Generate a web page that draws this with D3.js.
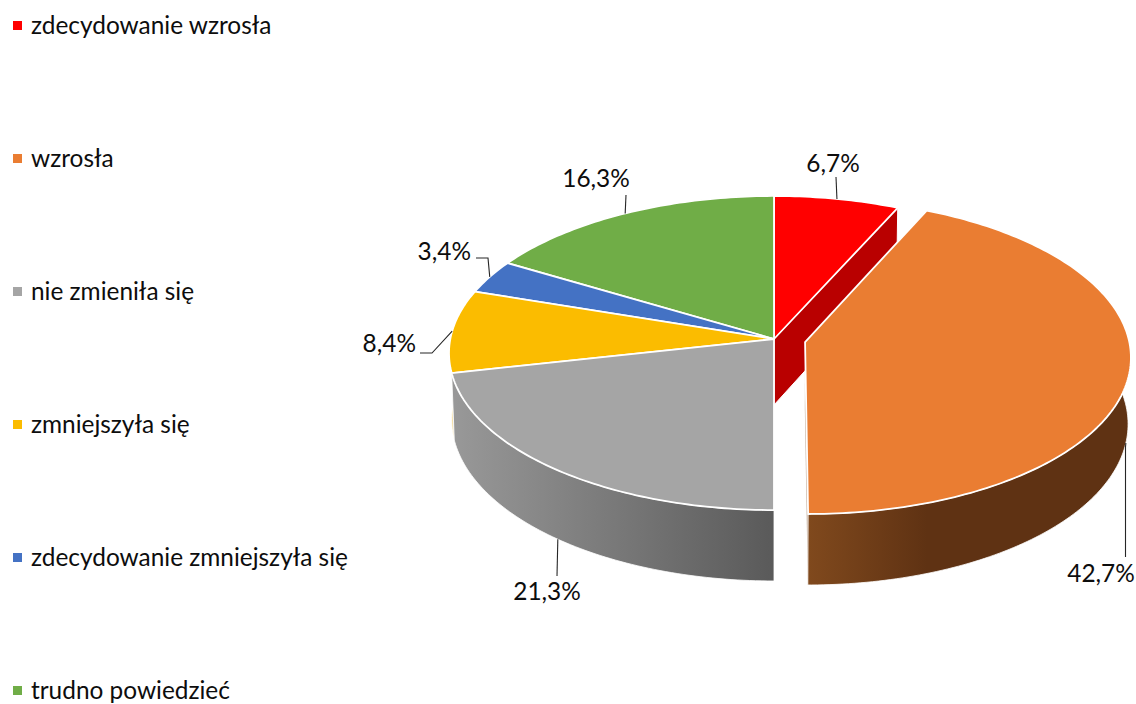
<!DOCTYPE html>
<html>
<head>
<meta charset="utf-8">
<script src="https://cdn.jsdelivr.net/npm/d3@7"></script>
<style>
  html, body { margin: 0; padding: 0; background: #fff; }
  text { font-family: Lato, "Open Sans", sans-serif; fill: #0d0d0d; }
</style>
</head>
<body>
<div id="chart"></div>
<script>
const categories = ['zdecydowanie wzrosła', 'wzrosła', 'nie zmieniła się', 'zmniejszyła się', 'zdecydowanie zmniejszyła się', 'trudno powiedzieć'];
const values = [6.7, 42.7, 21.3, 8.4, 3.4, 16.3];
const valueLabels = ['6,7%', '42,7%', '21,3%', '8,4%', '3,4%', '16,3%'];
const colors = ['#ff0000', '#ea7d32', '#a5a5a5', '#fbbc00', '#4472c4', '#70ad47'];

const width = 1136, height = 704;

// perspective pie: disc coords (u right, v away) go through a homography
const cx = 774, cy = 339, a = 323.7, b = 155.8, k = 0.0893;
const depth = 66.5, depthW = 0.008;
const explodeBy = [0, 0.098, 0, 0, 0, 0];
const fontSize = 24.4;

function project(angle, radius, slice, h) {
    const off = explodeBy[slice];
    const mid = (pieData[slice].startAngle + pieData[slice].endAngle) / 2;
    const u = radius * Math.sin(angle) + off * Math.sin(mid);
    const v = radius * Math.cos(angle) + off * Math.cos(mid);
    const w = 1 + k * v + depthW * h;
    return [cx + a * u / w, cy + (-b * v + depth * h) / w];
}

const pieData = d3.pie().sort(null).value(d => d)(values);
const color = d3.scaleOrdinal().domain(categories).range(colors);
const line = d3.line();
const arcAngles = d => d3.range(d.startAngle, d.endAngle, Math.PI / 180).concat([d.endAngle]);

const svg = d3.select('#chart').append('svg')
    .attr('width', width)
    .attr('height', height)
    .style('display', 'block');

function wallGradient(id, x1, x2, stops) {
    const g = svg.append('defs').append('linearGradient')
        .attr('id', id)
        .attr('gradientUnits', 'userSpaceOnUse')
        .attr('x1', x1).attr('x2', x2).attr('y1', 0).attr('y2', 0);
    stops.forEach(s => g.append('stop').attr('offset', s[0]).attr('stop-color', s[1]));
}
wallGradient('wallGray', 455, 773, [[0, '#989898'], [1, '#5a5a5a']]);
wallGradient('wallOrange', 808, 1130, [[0, '#80491d'], [0.37, '#5f3213'], [1, '#5f3213']]);

function outerWall(i, fill) {
    const top = arcAngles(pieData[i]).map(t => project(t, 1, i, 0));
    const base = arcAngles(pieData[i]).reverse().map(t => project(t, 1, i, 1));
    svg.append('path')
        .attr('d', line(top.concat(base)) + 'Z')
        .attr('fill', fill)
        .attr('stroke', '#fff')
        .attr('stroke-width', 0.8);
}

function cutFace(i, angle, fill, stroke) {
    const pts = [project(0, 0, i, 0), project(angle, 1, i, 0), project(angle, 1, i, 1), project(0, 0, i, 1)];
    svg.append('path')
        .attr('d', line(pts) + 'Z')
        .attr('fill', fill)
        .attr('stroke', stroke)
        .attr('stroke-width', 1);
}

function topFace(i) {
    const pts = [project(0, 0, i, 0)].concat(arcAngles(pieData[i]).map(t => project(t, 1, i, 0)));
    svg.append('path')
        .attr('d', line(pts) + 'Z')
        .attr('fill', color(categories[i]))
        .attr('stroke', '#fff')
        .attr('stroke-width', 1.8)
        .attr('stroke-linejoin', 'round');
}

// back to front
cutFace(0, pieData[0].endAngle, '#b90000', '#fff');
outerWall(3, '#f3dca0');
outerWall(2, 'url(#wallGray)');
[0, 5, 4, 3, 2].forEach(topFace);
cutFace(1, pieData[1].endAngle, '#c4ad9a', 'none');
outerWall(1, 'url(#wallOrange)');
topFace(1);

// leader lines start on the slice rim and end next to the label
const midAngle = i => (pieData[i].startAngle + pieData[i].endAngle) / 2;
const labelSpots = [
    { x: 833, y: 172, anchor: 'middle', wall: 0, elbow: [[836, 177]] },
    { x: 1101, y: 582, anchor: 'middle', wall: 1, elbow: [[1125.5, 447], [1125.5, 557]] },
    { x: 547, y: 600, anchor: 'middle', wall: 1, elbow: [[557, 576]] },
    { x: 416, y: 352, anchor: 'end', wall: 0, elbow: [[432, 353], [420, 353]] },
    { x: 471, y: 260, anchor: 'end', wall: 0, elbow: [[488, 258], [476, 258]] },
    { x: 596, y: 187, anchor: 'middle', wall: 0, elbow: [[626, 195]] }
];

labelSpots.forEach((s, i) => {
    const start = project(midAngle(i), 1, i, s.wall);
    svg.append('path')
        .attr('d', line([start].concat(s.elbow)))
        .attr('fill', 'none')
        .attr('stroke', '#262626')
        .attr('stroke-width', 1.1);
    svg.append('text')
        .attr('x', s.x)
        .attr('y', s.y)
        .attr('text-anchor', s.anchor)
        .attr('font-size', fontSize)
        .text(valueLabels[i]);
});

// legend down the left side
const legendY = d3.scalePoint().domain(categories).range([25.5, 690.5]);
const legend = svg.append('g').selectAll('g')
    .data(categories)
    .enter().append('g')
    .attr('transform', d => `translate(0,${legendY(d)})`);
legend.append('rect')
    .attr('x', 13)
    .attr('y', -4.5)
    .attr('width', 9)
    .attr('height', 9)
    .attr('fill', d => color(d));
legend.append('text')
    .attr('x', 31)
    .attr('y', 8)
    .attr('font-size', fontSize)
    .text(d => d);
</script>
</body>
</html>
